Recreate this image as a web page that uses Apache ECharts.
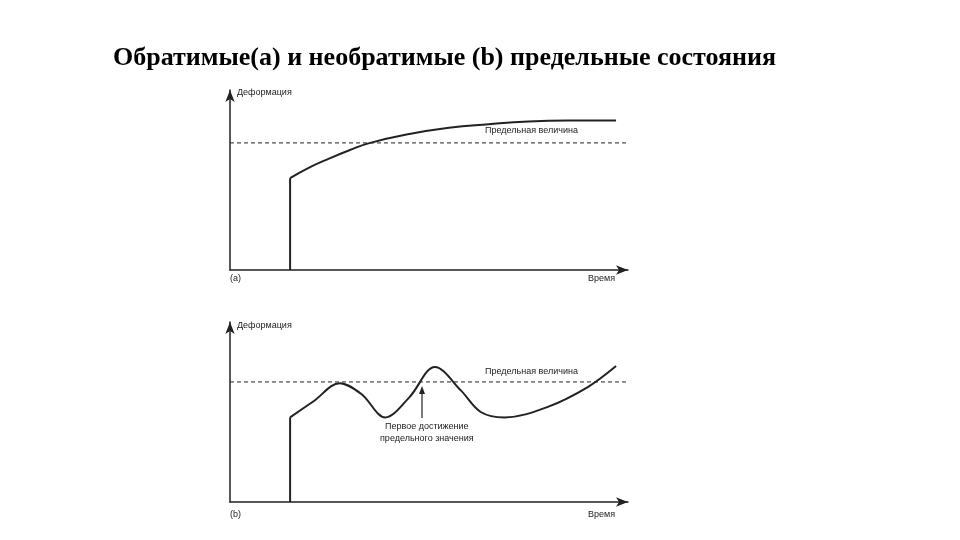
<!DOCTYPE html>
<html><head><meta charset="utf-8">
<script src="https://cdn.jsdelivr.net/npm/echarts@6/dist/echarts.min.js"></script>
<style>html,body{margin:0;padding:0;background:#fff}#c{width:960px;height:540px}</style>
</head><body><div id="c"></div>
<script>
const titleText = 'Обратимые(а) и необратимые (b) предельные состояния';
const limitA = 70.6;
const limitB = 66.7;
const curveA = [[15.1,51],[20,57],[25,62],[30,66.5],[35,70.5],[45,75.5],[55,79],[65,81],[75,82.5],[85,83],[97,83]];
const curveB = [[15.1,47],[21,56],[27.6,66],[33,60],[39,47],[45,58],[51.5,75],[58,62],[63,50],[69,47],[80,53],[90,64],[97,75.5]];
const jumpA = [[15.1,0],[15.1,51]];
const jumpB = [[15.1,0],[15.1,47]];
const ink = '#222';
const chart = echarts.init(document.getElementById('c'));
const ax = (i)=>({gridIndex:i,type:'value',min:0,max:100,splitLine:{show:false},axisTick:{show:false},axisLabel:{show:false},
  axisLine:{lineStyle:{color:ink,width:1.5},symbol:['none','arrow'],symbolSize:[7,12]}});
const line = (i,d,smooth)=>({type:'line',xAxisIndex:i,yAxisIndex:i,data:d,smooth:smooth,showSymbol:false,lineStyle:{color:ink,width:2},silent:true});
const dash = (i,v)=>({type:'line',xAxisIndex:i,yAxisIndex:i,data:[[0,v],[100,v]],showSymbol:false,lineStyle:{color:ink,width:1,type:[4,3]},silent:true});
const t = (x,y,s)=>({type:'text',left:x,top:y,style:{text:s,fill:ink,fontSize:9,fontFamily:'Liberation Sans',textAlign:'center',lineHeight:12}});
const tl = (x,y,s)=>({type:'text',left:x,top:y,style:{text:s,fill:ink,fontSize:9,fontFamily:'Liberation Sans'}});
chart.setOption({
  animation:false,
  title:{text:titleText,left:108,top:40,textStyle:{fontFamily:'Liberation Serif',fontWeight:'bold',fontSize:26,color:'#000'}},
  grid:[{left:230,right:332,top:90,height:180},{left:230,right:332,top:322,height:180}],
  xAxis:[ax(0),ax(1)], yAxis:[ax(0),ax(1)],
  series:[dash(0,limitA),line(0,jumpA,false),line(0,curveA,0.5),dash(1,limitB),line(1,jumpB,false),line(1,curveB,0.35)],
  graphic:[
    tl(237,88,'Деформация'), tl(485,126,'Предельная величина'), tl(230,274,'(a)'), tl(588,274,'Время'),
    tl(237,321,'Деформация'), tl(485,367,'Предельная величина'), tl(230,510,'(b)'), tl(588,510,'Время'),
    t(380,421,'Первое достижение\nпредельного значения'),
    {type:'line',shape:{x1:422,y1:418,x2:422,y2:390},style:{stroke:ink,lineWidth:1.2}},
    {type:'polygon',shape:{points:[[422,386],[419,394],[425,394]]},style:{fill:ink}}
  ]
});
</script></body></html>
